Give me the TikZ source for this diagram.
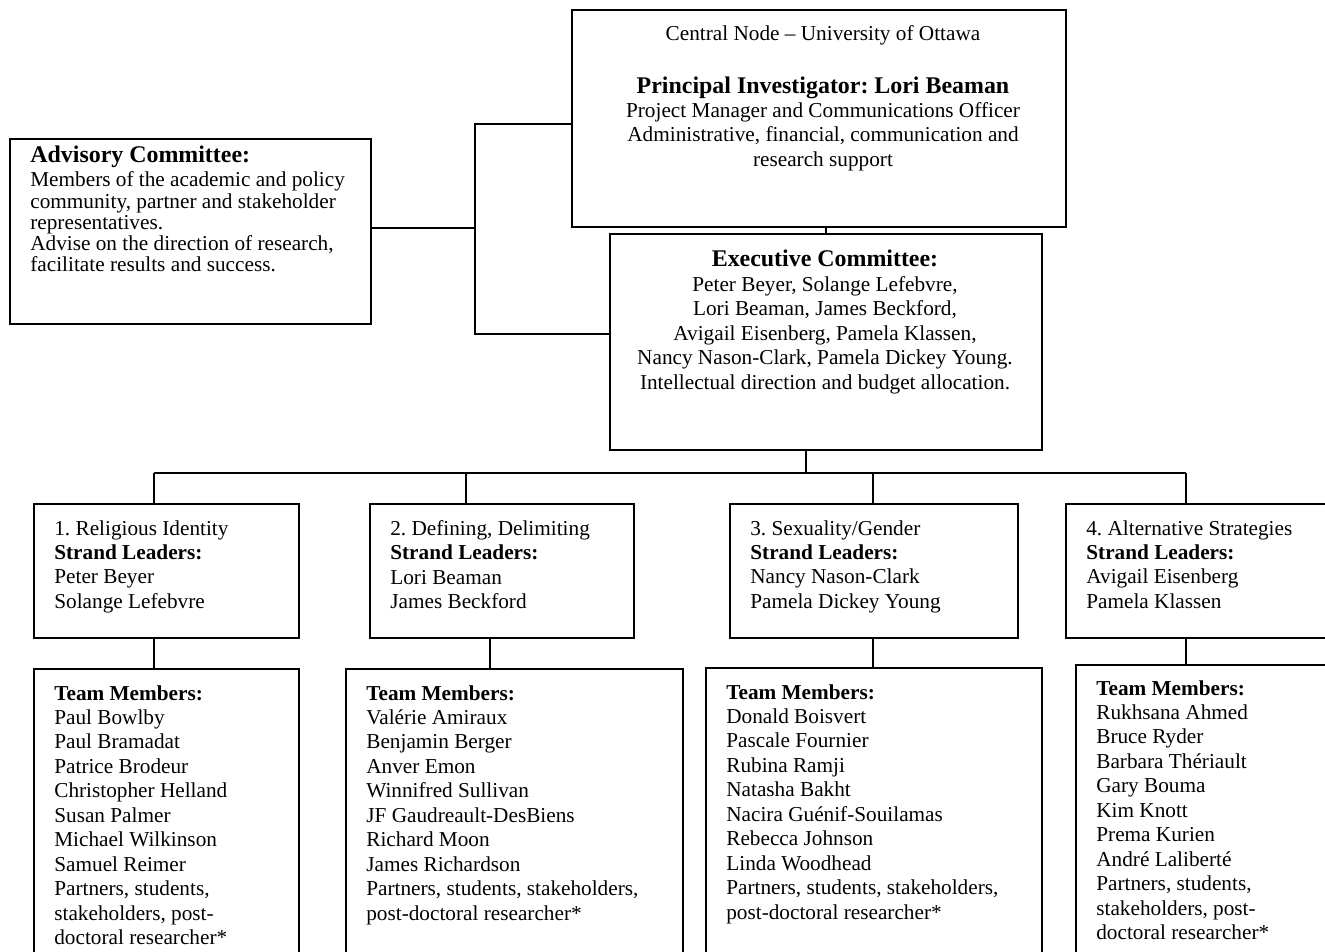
\documentclass[tikz,border=0pt]{standalone}
\usepackage{fontspec}
\setmainfont{Liberation Serif}
\usepackage{tikz}
\usetikzlibrary{positioning,calc}
\frenchspacing
\def\pxu{0.5647pt}
\tikzset{
  box/.style={draw, line width=1.1pt, anchor=north west, inner sep=0pt},
  txt/.style={anchor=north west, align=left, inner sep=0pt, font=\fontsize{12}{13.8}\selectfont},
  conn/.style={line width=1.1pt}
}

\begin{document}
\begin{tikzpicture}[x=\pxu, y=-\pxu]
\useasboundingbox (0,0) rectangle (1325,952);
\clip (0,0) rectangle (1325,952);

\node[box, minimum width=494*\pxu, minimum height=217*\pxu] (cen) at (571,9) {};
\node[box, minimum width=432*\pxu, minimum height=216*\pxu] (exec) at (609,233) {};
\node[box, minimum width=361*\pxu, minimum height=185*\pxu] (adv) at (9,138) {};

\node[box, minimum width=265*\pxu, minimum height=134*\pxu] (s1) at (33,503) {};
\node[box, minimum width=264*\pxu, minimum height=134*\pxu] (s2) at (369,503) {};
\node[box, minimum width=288*\pxu, minimum height=134*\pxu] (s3) at (729,503) {};
\node[box, minimum width=275*\pxu, minimum height=134*\pxu] (s4) at (1065,503) {};

\node[box, minimum width=265*\pxu, minimum height=300*\pxu] (t1) at (33,668) {};
\node[box, minimum width=337*\pxu, minimum height=300*\pxu] (t2) at (345,668) {};
\node[box, minimum width=336*\pxu, minimum height=300*\pxu] (t3) at (705,667) {};
\node[box, minimum width=265*\pxu, minimum height=300*\pxu] (t4) at (1075,664) {};

\node[txt, anchor=north, align=center] (cenT) at (823,25) {Central Node – University of Ottawa\\[16pt]
  {\bfseries\fontsize{13.5}{15}\selectfont Principal Investigator: Lori Beaman}\\
  Project Manager and Communications Officer\\
  Administrative, financial, communication and\\
  research support};

\node[txt, anchor=north, align=center] (execT) at (825,250) {{\bfseries\fontsize{13.5}{15}\selectfont Executive Committee:}\\
  Peter Beyer, Solange Lefebvre,\\
  Lori Beaman, James Beckford,\\
  Avigail Eisenberg, Pamela Klassen,\\
  Nancy Nason-Clark, Pamela Dickey Young.\\
  Intellectual direction and budget allocation.};

\node[txt, font=\fontsize{12}{12}\selectfont] (advT) at (30,146) {{\bfseries\fontsize{13.5}{15}\selectfont Advisory Committee:}\\[1.5pt]
  Members of the academic and policy\\
  community, partner and stakeholder\\
  representatives.\\
  Advise on the direction of research,\\
  facilitate results and success.};

\node[txt] (s1T) at (54,520) {1. Religious Identity\\ \textbf{Strand Leaders:}\\ Peter Beyer\\ Solange Lefebvre};
\node[txt] (s2T) at (390,520) {2. Defining, Delimiting\\ \textbf{Strand Leaders:}\\ Lori Beaman\\ James Beckford};
\node[txt] (s3T) at (750,520) {3. Sexuality/Gender\\ \textbf{Strand Leaders:}\\ Nancy Nason-Clark\\ Pamela Dickey Young};
\node[txt] (s4T) at (1086,520) {4. Alternative Strategies\\ \textbf{Strand Leaders:}\\ Avigail Eisenberg\\ Pamela Klassen};

\node[txt] (t1T) at (54,685) {\textbf{Team Members:}\\ Paul Bowlby\\ Paul Bramadat\\ Patrice Brodeur\\
  Christopher Helland\\ Susan Palmer\\ Michael Wilkinson\\ Samuel Reimer\\
  Partners, students,\\ stakeholders, post-\\ doctoral researcher*};
\node[txt] (t2T) at (366,685) {\textbf{Team Members:}\\ Valérie Amiraux\\ Benjamin Berger\\ Anver Emon\\
  Winnifred Sullivan\\ JF Gaudreault-DesBiens\\ Richard Moon\\ James Richardson\\
  Partners, students, stakeholders,\\ post-doctoral researcher*};
\node[txt] (t3T) at (726,684) {\textbf{Team Members:}\\ Donald Boisvert\\ Pascale Fournier\\ Rubina Ramji\\
  Natasha Bakht\\ Nacira Guénif-Souilamas\\ Rebecca Johnson\\ Linda Woodhead\\
  Partners, students, stakeholders,\\ post-doctoral researcher*};
\node[txt] (t4T) at (1096,680) {\textbf{Team Members:}\\ Rukhsana Ahmed\\ Bruce Ryder\\ Barbara Thériault\\
  Gary Bouma\\ Kim Knott\\ Prema Kurien\\ André Laliberté\\
  Partners, students,\\ stakeholders, post-\\ doctoral researcher*};

\coordinate (jt) at (475,124);
\coordinate (jm) at (475,228);
\coordinate (jb) at (475,334);
\draw[conn] (adv.east |- jm) -- (jm);
\draw[conn] (cen.west |- jt) -- (jt) -- (jb) -- (exec.west |- jb);
\draw[conn] (exec.north) -- (exec.north |- cen.south);

\coordinate (bus) at (806,473);
\coordinate (d1) at (154,473);
\coordinate (d2) at (466,473);
\coordinate (d3) at (873,473);
\coordinate (d4) at (1186,473);
\coordinate (e2) at (490,650);
\draw[conn] (exec.south -| bus) -- (bus);
\draw[conn] (d1) -- (d4);
\draw[conn] (d1) -- (d1 |- s1.north);
\draw[conn] (d2) -- (d2 |- s2.north);
\draw[conn] (d3) -- (d3 |- s3.north);
\draw[conn] (d4) -- (d4 |- s4.north);
\draw[conn] (s1.south -| d1) -- (t1.north -| d1);
\draw[conn] (s2.south -| e2) -- (t2.north -| e2);
\draw[conn] (s3.south -| d3) -- (t3.north -| d3);
\draw[conn] (s4.south -| d4) -- (t4.north -| d4);

\end{tikzpicture}
\end{document}
